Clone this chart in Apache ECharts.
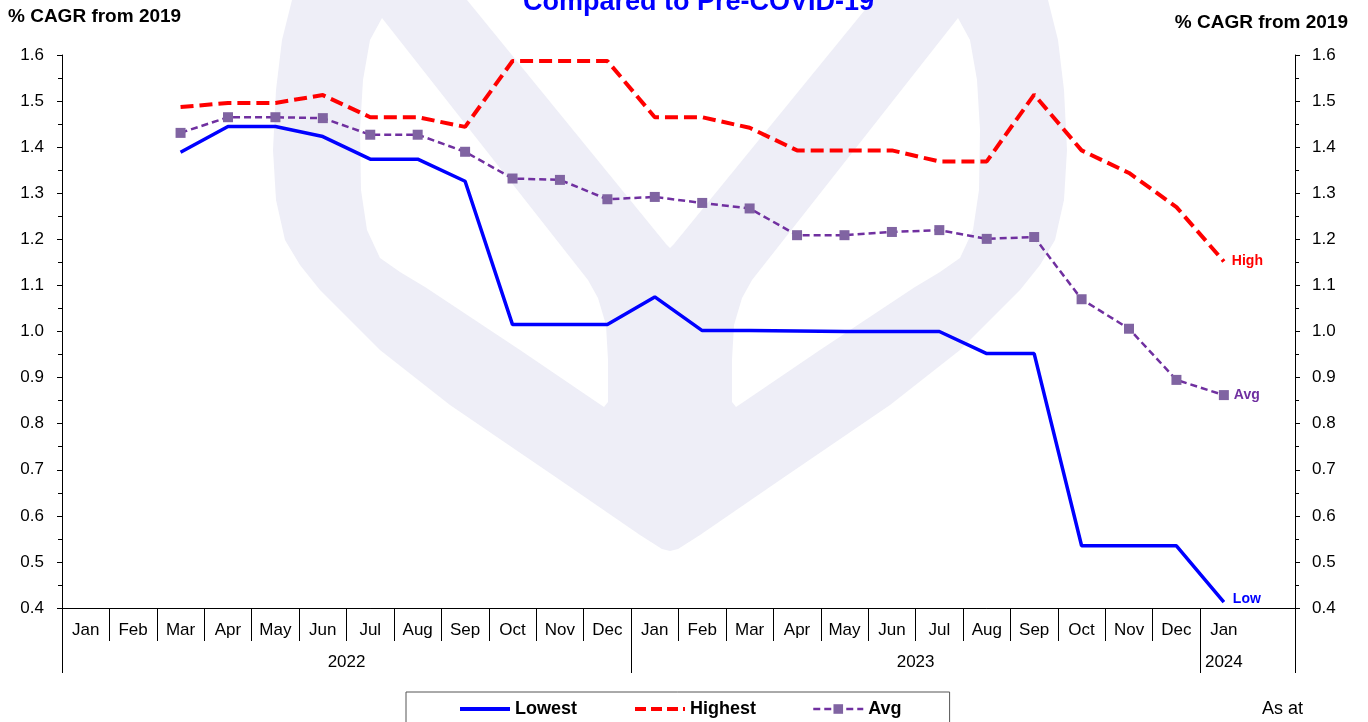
<!DOCTYPE html>
<html>
<head>
<meta charset="utf-8">
<script src="https://cdn.jsdelivr.net/npm/echarts@6/dist/echarts.min.js"></script>
<style>
  html, body { margin: 0; padding: 0; background: #fff; }
  #main { width: 1368px; height: 722px; }
</style>
</head>
<body>
<div id="main"></div>
<script>
// Jan 2022 .. Jan 2024, plus one empty slot before the right axis
const months = ['Jan','Feb','Mar','Apr','May','Jun','Jul','Aug','Sep','Oct','Nov','Dec',
  'Jan','Feb','Mar','Apr','May','Jun','Jul','Aug','Sep','Oct','Nov','Dec','Jan',''];
const years = ['2022', '2023', '2024'];
const yearCenters = [6, 18, 24.5];
const yearBreaks = [0, 12, 24, 26];

const lowest = [null, null, 1.389, 1.445, 1.445, 1.423, 1.374, 1.374, 1.326, 1.015, 1.015, 1.015,
  1.075, 1.002, 1.002, 1.001, 1.0, 1.0, 1.0, 0.952, 0.952, 0.535, 0.535, 0.535, 0.413];
const highest = [null, null, 1.487, 1.496, 1.496, 1.513, 1.465, 1.465, 1.444, 1.587, 1.587, 1.587,
  1.465, 1.465, 1.442, 1.393, 1.393, 1.393, 1.369, 1.369, 1.514, 1.393, 1.344, 1.27, 1.152];
const avg = [null, null, 1.431, 1.465, 1.465, 1.463, 1.427, 1.427, 1.39, 1.332, 1.329, 1.287,
  1.292, 1.279, 1.267, 1.209, 1.209, 1.216, 1.22, 1.201, 1.205, 1.07, 1.006, 0.895, 0.862];

const font = 'Liberation Sans, Arial, sans-serif';
const wm = '#eeeef7';

// faint logo behind the plot
function mirror(pts) {
  return pts.map(p => [1340 - p[0], p[1]]);
}
const hull = [[292,0],[282,40],[276,90],[273,150],[276,200],[285,240],[300,265],[320,290],[380,350],
  [450,405],[560,480],[640,535],[662,549],[670,551],[678,549],[700,535],[780,480],[890,405],[960,350],
  [1020,290],[1040,265],[1055,240],[1064,200],[1067,150],[1064,90],[1058,40],[1048,0]];
const topV = [[467,0],[666,244],[670,248],[674,244],[873,0]];
const leftHole = [[382,18],[370,40],[363,80],[360,130],[361,190],[367,230],[380,258],[400,272],[425,287],
  [520,350],[598,403],[604,407],[608,402],[608,360],[606,325],[598,298],[588,280]];

let myChart = echarts.init(document.getElementById('main'));
let option = {
  animation: false,
  backgroundColor: '#fff',
  title: [
    { text: 'Compared to Pre-COVID-19', left: 523, top: -11, padding: 0,
      textStyle: { color: '#0000ff', fontSize: 27, fontWeight: 'bold', fontFamily: font } },
    { text: '% CAGR from 2019', left: 8, top: 7, padding: 0,
      textStyle: { color: '#000', fontSize: 19, fontWeight: 'bold', fontFamily: font } },
    { text: '% CAGR from 2019', right: 20, top: 13, padding: 0,
      textStyle: { color: '#000', fontSize: 19, fontWeight: 'bold', fontFamily: font } },
    { text: 'As at', left: 1262, top: 700, padding: 0,
      textStyle: { color: '#000', fontSize: 18, fontWeight: 'normal', fontFamily: font } }
  ],
  graphic: [
    { type: 'polygon', z: -10, silent: true, shape: { points: hull }, style: { fill: wm } },
    { type: 'polygon', z: -9, silent: true, shape: { points: topV }, style: { fill: '#fff' } },
    { type: 'polygon', z: -9, silent: true, shape: { points: leftHole }, style: { fill: '#fff' } },
    { type: 'polygon', z: -9, silent: true, shape: { points: mirror(leftHole) }, style: { fill: '#fff' } }
  ],
  legend: {
    data: [
      { name: 'Lowest', itemStyle: { opacity: 0 }, lineStyle: { width: 4 } },
      { name: 'Highest', itemStyle: { opacity: 0 }, lineStyle: { width: 4, type: [11, 5] } },
      { name: 'Avg', lineStyle: { width: 2.5 } }
    ],
    left: 406,
    top: 692,
    padding: [8, 48, 24, 52],
    borderColor: '#555',
    borderWidth: 1,
    itemWidth: 50,
    itemHeight: 12,
    itemGap: 56,
    textStyle: { color: '#000', fontSize: 18, fontWeight: 'bold', fontFamily: font }
  },
  grid: {
    left: 62,
    right: 73,
    top: 55,
    bottom: 114,
    outerBoundsMode: 'none'
  },
  xAxis: [{
    type: 'category',
    data: months,
    position: 'bottom',
    axisLine: { onZero: false, lineStyle: { color: '#000', width: 1 } },
    axisTick: {
      show: true,
      length: 33,
      interval: function (index) { return index < 25; },
      lineStyle: { color: '#000' }
    },
    axisLabel: { interval: 0, margin: 14, color: '#000', fontSize: 17, fontFamily: font },
    splitLine: { show: false }
  }, {
    // year row under the months
    type: 'value',
    min: 0,
    max: 26,
    position: 'bottom',
    axisLine: { show: false, onZero: false },
    axisTick: { show: true, customValues: yearBreaks, length: 65, lineStyle: { color: '#000' } },
    axisLabel: {
      show: true,
      customValues: yearCenters,
      margin: 46,
      color: '#000',
      fontSize: 17,
      fontFamily: font,
      formatter: function (v) {
        let i = yearCenters.indexOf(v);
        return i >= 0 ? years[i] : '';
      }
    },
    splitLine: { show: false }
  }],
  yAxis: [{
    type: 'value',
    position: 'left',
    min: 0.4,
    max: 1.6,
    interval: 0.1,
    axisLine: { show: true, onZero: false, lineStyle: { color: '#000' } },
    axisTick: { show: true, length: 5, lineStyle: { color: '#000' } },
    minorTick: { show: true, splitNumber: 2, length: 4, lineStyle: { color: '#000' } },
    axisLabel: { margin: 18, color: '#000', fontSize: 17, fontFamily: font,
      formatter: function (v) { return v.toFixed(1); } },
    splitLine: { show: false }
  }, {
    type: 'value',
    position: 'right',
    min: 0.4,
    max: 1.6,
    interval: 0.1,
    axisLine: { show: true, onZero: false, lineStyle: { color: '#000' } },
    axisTick: { show: true, length: 5, lineStyle: { color: '#000' } },
    minorTick: { show: true, splitNumber: 2, length: 4, lineStyle: { color: '#000' } },
    axisLabel: { margin: 17, color: '#000', fontSize: 17, fontFamily: font,
      formatter: function (v) { return v.toFixed(1); } },
    splitLine: { show: false }
  }],
  series: [{
    name: 'Lowest',
    type: 'line',
    data: lowest,
    symbol: 'none',
    color: '#0000ff',
    lineStyle: { color: '#0000ff', width: 3.5 },
    endLabel: { show: true, formatter: 'Low', distance: 9, offset: [0, -3],
      color: '#0000ff', fontSize: 14, fontWeight: 'bold', fontFamily: font }
  }, {
    name: 'Highest',
    type: 'line',
    data: highest,
    symbol: 'none',
    color: '#ff0000',
    lineStyle: { color: '#ff0000', width: 4, type: [13, 6] },
    endLabel: { show: true, formatter: 'High', distance: 8,
      color: '#ff0000', fontSize: 14, fontWeight: 'bold', fontFamily: font }
  }, {
    name: 'Avg',
    type: 'line',
    data: avg,
    symbol: 'rect',
    symbolSize: 10,
    showAllSymbol: true,
    color: '#8064a2',
    itemStyle: { color: '#8064a2' },
    lineStyle: { color: '#7030a0', width: 2.5, type: [7, 4] },
    endLabel: { show: true, formatter: 'Avg', distance: 10,
      color: '#7030a0', fontSize: 14, fontWeight: 'bold', fontFamily: font }
  }]
};
myChart.setOption(option);
</script>
</body>
</html>
